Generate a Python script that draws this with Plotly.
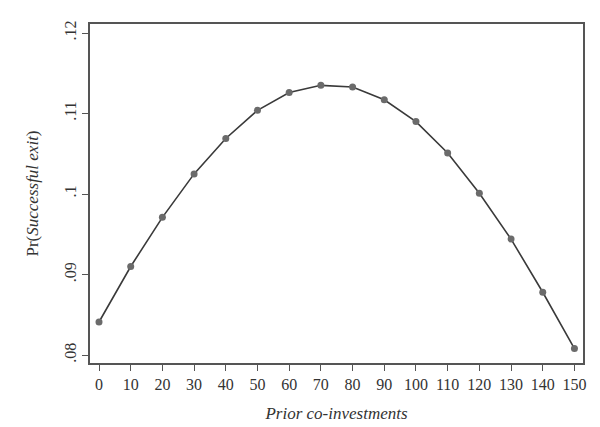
import plotly.graph_objects as go

x_vals = [0, 10, 20, 30, 40, 50, 60, 70, 80, 90, 100, 110, 120, 130, 140, 150]
y_vals = [0.0841, 0.0910, 0.0971, 0.1025, 0.1069, 0.1104, 0.1126, 0.1135, 0.1133, 0.1117, 0.1090, 0.1051, 0.1001, 0.0944, 0.0878, 0.0808]
x_ticks = list(range(0, 151, 10))
y_ticks = [0.08, 0.09, 0.10, 0.11, 0.12]
y_tick_text = [".08", ".09", ".1", ".11", ".12"]

fig = go.Figure()
fig.add_trace(go.Scatter(
    x=x_vals, y=y_vals, mode="lines+markers",
    line=dict(color="#3a3a3a", width=1.6),
    marker=dict(color="#6b6b6b", size=7),
    showlegend=False,
))

font = "Liberation Serif, Times New Roman, serif"
# page body has an 8px default margin; size the figure to compensate
fig.update_layout(
    width=592, height=419,
    margin=dict(l=82, r=17, t=16, b=64),
    paper_bgcolor="white", plot_bgcolor="white",
    font=dict(family=font, size=16, color="#333"),
    xaxis=dict(
        range=[-2.84, 152.7], tickvals=x_ticks, ticktext=[str(v) for v in x_ticks],
        ticks="outside", ticklen=6, tickcolor="#555", tickwidth=1.2,
        showline=True, linecolor="#555", linewidth=1.6, mirror=True,
        showgrid=False, zeroline=False, automargin=False,
        title=dict(text="<i>Prior co-investments</i>", font=dict(size=17), standoff=15),
        tickfont=dict(size=16),
    ),
    yaxis=dict(
        range=[0.07901, 0.12112], tickvals=y_ticks, ticktext=y_tick_text,
        ticks="outside", ticklen=6, tickcolor="#555", tickwidth=1.2, tickangle=-90,
        showline=True, linecolor="#555", linewidth=1.6, mirror=True,
        showgrid=False, zeroline=False, automargin=False,
        title=dict(text="Pr(<i>Successful exit</i>)", font=dict(size=17), standoff=19),
        tickfont=dict(size=16),
    ),
)
fig.write_html("out.html")
